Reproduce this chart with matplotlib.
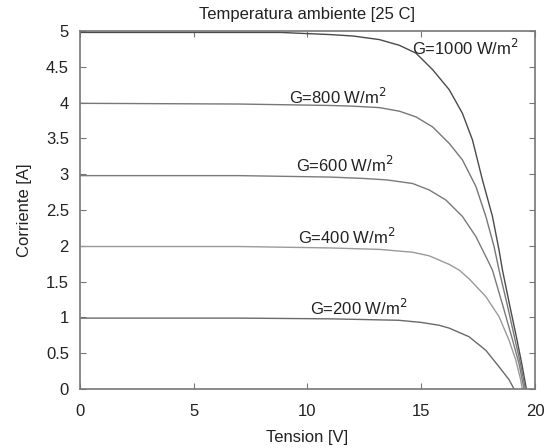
import numpy as np
import matplotlib
matplotlib.use('Agg')
import matplotlib.pyplot as plt
from matplotlib.ticker import FuncFormatter, MultipleLocator

plt.rcParams['font.family'] = ['Liberation Sans', 'DejaVu Sans']

# curves (tension V, current A)
v_1000 = [0, 4, 8.8, 11, 12, 13.16, 14.04, 14.77, 15.5, 16.23, 16.81, 17.25, 17.69, 18.13, 18.42, 18.57, 18.9, 19.2, 19.42, 19.62]
i_1000 = [4.98, 4.98, 4.98, 4.95, 4.93, 4.88, 4.80, 4.69, 4.46, 4.18, 3.85, 3.48, 2.92, 2.41, 1.94, 1.66, 1.15, 0.7, 0.35, 0]

v_800 = [0, 7, 11, 12, 13.16, 14.04, 14.77, 15.5, 16.23, 16.81, 17.4, 17.84, 18.2, 18.42, 18.8, 19.1, 19.35, 19.58]
i_800 = [3.99, 3.98, 3.96, 3.95, 3.93, 3.88, 3.80, 3.66, 3.43, 3.20, 2.83, 2.41, 1.99, 1.66, 1.15, 0.72, 0.37, 0]

v_600 = [0, 7, 11, 12.5, 13.5, 14.62, 15.35, 16.08, 16.81, 17.4, 17.98, 18.13, 18.6, 19.0, 19.3, 19.52]
i_600 = [2.98, 2.98, 2.96, 2.94, 2.92, 2.87, 2.78, 2.64, 2.41, 2.13, 1.76, 1.66, 1.15, 0.7, 0.35, 0]

v_400 = [0, 7, 11, 13.16, 14.62, 15.35, 16.23, 16.67, 17.1, 17.84, 18.42, 18.86, 19.15, 19.37, 19.44]
i_400 = [1.99, 1.99, 1.97, 1.95, 1.91, 1.86, 1.74, 1.66, 1.54, 1.29, 1.01, 0.68, 0.41, 0.13, 0]

v_200 = [0, 7, 11, 14.0, 15.0, 15.79, 16.23, 17.1, 17.84, 18.42, 18.86, 19.08]
i_200 = [0.99, 0.99, 0.98, 0.96, 0.93, 0.89, 0.85, 0.73, 0.54, 0.31, 0.13, 0]

labels = ['G=1000 W/m$^2$', 'G=800 W/m$^2$', 'G=600 W/m$^2$', 'G=400 W/m$^2$', 'G=200 W/m$^2$']
label_xy = [(14.6, 4.76), (9.2, 4.08), (9.5, 3.13), (9.6, 2.13), (10.1, 1.13)]
colors = ['#4a4a4a', '#777777', '#7a7a7a', '#9a9a9a', '#6a6a6a']

fig = plt.figure(figsize=(5.49, 4.48), dpi=100)
ax = fig.add_axes([0.1457, 0.1317, 0.8288, 0.7991])

curves = [(v_1000, i_1000), (v_800, i_800), (v_600, i_600), (v_400, i_400), (v_200, i_200)]
for (v, i), c in zip(curves, colors):
    ax.plot(v, i, color=c, linewidth=1.0)

for txt, (x, y) in zip(labels, label_xy):
    ax.text(x, y, txt, fontsize=12, ha='left', va='center', color='#222222')

ax.set_xlim(0, 20)
ax.set_ylim(0, 5)
ax.xaxis.set_major_locator(MultipleLocator(5))
ax.yaxis.set_major_locator(MultipleLocator(0.5))
ax.yaxis.set_major_formatter(FuncFormatter(lambda v, p: '%g' % v))
ax.xaxis.set_major_formatter(FuncFormatter(lambda v, p: '%g' % v))
ax.tick_params(direction='in', top=True, right=True, length=4, width=0.8,
               color='#777777', labelsize=12, labelcolor='#222222')
ax.tick_params(axis='x', pad=11)
ax.tick_params(axis='y', pad=8)
for s in ax.spines.values():
    s.set_color('#777777')
    s.set_linewidth(1.2)

ax.set_xlabel('Tension [V]', fontsize=12, color='#222222', labelpad=8)
ax.set_ylabel('Corriente [A]', fontsize=12, color='#222222', labelpad=10)
ax.set_title('Temperatura ambiente [25 C]', fontsize=12, color='#222222', pad=9)

fig.savefig('out.png', dpi=100)
